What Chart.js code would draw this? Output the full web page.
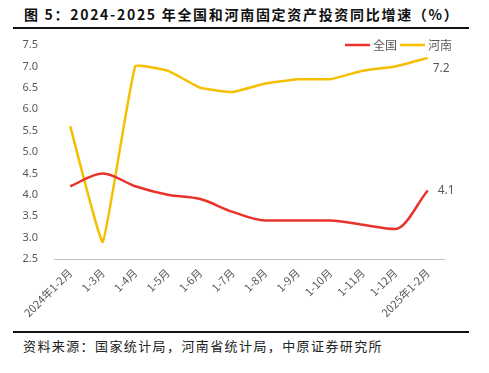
<!DOCTYPE html>
<html>
<head>
<meta charset="utf-8">
<script src="https://cdn.jsdelivr.net/npm/chart.js@4.4.1/dist/chart.umd.min.js"></script>
<style>
  body { margin: 0; background: #fff; width: 489px; height: 373px; position: relative; overflow: hidden; font-family: "Noto Sans CJK SC", sans-serif; }
  #titulo { position: absolute; left: 24px; top: 4px; font-size: 14px; font-weight: bold; color: #111; white-space: nowrap; letter-spacing: 1.7px; }
  .linea { position: absolute; left: 13px; width: 456px; height: 2px; background: #111; }
  #fuente { position: absolute; left: 23px; top: 336px; font-size: 13px; color: #222; white-space: nowrap; letter-spacing: 1.4px; }
  #caja { position: absolute; left: 0; top: 30px; width: 489px; height: 300px; }
</style>
</head>
<body>
<div id="titulo">图 5：2024-2025 年全国和河南固定资产投资同比增速（%）</div>
<div class="linea" style="top:27px"></div>
<div id="caja"><canvas id="chart"></canvas></div>
<div class="linea" style="top:331px"></div>
<div id="fuente">资料来源：国家统计局，河南省统计局，中原证券研究所</div>
<script>
const meses = ["2024年1-2月", "1-3月", "1-4月", "1-5月", "1-6月", "1-7月", "1-8月", "1-9月", "1-10月", "1-11月", "1-12月", "2025年1-2月"]
const valoresNacional = [4.2, 4.5, 4.2, 4.0, 3.9, 3.6, 3.4, 3.4, 3.4, 3.3, 3.2, 4.1]
const valoresHenan = [5.6, 2.9, 7.0, 6.9, 6.5, 6.4, 6.6, 6.7, 6.7, 6.9, 7.0, 7.2]

// leyenda y etiqueta final
const extras = {
    id: 'extras',
    afterDraw(chart) {
        const ctx = chart.ctx
        ctx.save()
        ctx.font = '12px "Noto Sans CJK SC", sans-serif'
        ctx.fillStyle = '#595959'
        ctx.textBaseline = 'middle'
        // leyenda
        let x = 345
        const y = 15
        chart.data.datasets.forEach((ds) => {
            ctx.strokeStyle = ds.borderColor
            ctx.lineWidth = 2.5
            ctx.beginPath()
            ctx.moveTo(x, y)
            ctx.lineTo(x + 25, y)
            ctx.stroke()
            ctx.fillText(ds.label, x + 28, y)
            x += 28 + ctx.measureText(ds.label).width + 3
        })
        // ultimo valor
        chart.data.datasets.forEach((ds, i) => {
            const pts = chart.getDatasetMeta(i).data
            const p = pts[pts.length - 1]
            const v = ds.data[ds.data.length - 1]
            ctx.font = '12px "Noto Sans", sans-serif'
            if (i === 0) ctx.fillText(v.toFixed(1), p.x + 10, p.y)
            else ctx.fillText(v.toFixed(1), p.x + 5, p.y + 11)
        })
        ctx.restore()
    }
}

const grafico = document.getElementById('chart').getContext('2d')
new Chart(grafico, {
    type: 'line',
    data: {
        labels: meses,
        datasets: [{
            label: '全国',
            data: valoresNacional,
            borderColor: '#E8322B',
            borderWidth: 2.5,
            pointRadius: 0,
            cubicInterpolationMode: 'monotone',
        }, {
            label: '河南',
            data: valoresHenan,
            borderColor: '#F5BF00',
            borderWidth: 2.5,
            pointRadius: 0,
            tension: 0.1,
        }],
    },
    options: {
        responsive: true,
        maintainAspectRatio: false,
        animation: false,
        layout: { padding: { top: 15, right: 45, left: 0, bottom: 0 } },
        plugins: {
            legend: { display: false },
            tooltip: { enabled: false },
        },
        scales: {
            x: {
                offset: true,
                grid: { display: false, drawTicks: true, tickLength: 4, color: '#bfbfbf' },
                border: { color: '#bfbfbf' },
                ticks: {
                    minRotation: 45,
                    maxRotation: 45,
                    autoSkip: false,
                    color: '#595959',
                    font: { size: 11, family: '"Noto Sans CJK SC", sans-serif' },
                    padding: 3,
                },
                afterFit(scale) { scale.height = 71 },
            },
            y: {
                min: 2.5,
                max: 7.5,
                grid: { display: false },
                border: { display: false },
                ticks: {
                    stepSize: 0.5,
                    color: '#595959',
                    font: { size: 11, family: '"Noto Sans", sans-serif' },
                    callback: (v) => v.toFixed(1),
                    padding: 8,
                },
                afterFit(scale) { scale.width = 54 },
            },
        },
    },
    plugins: [extras],
})
</script>
</body>
</html>
